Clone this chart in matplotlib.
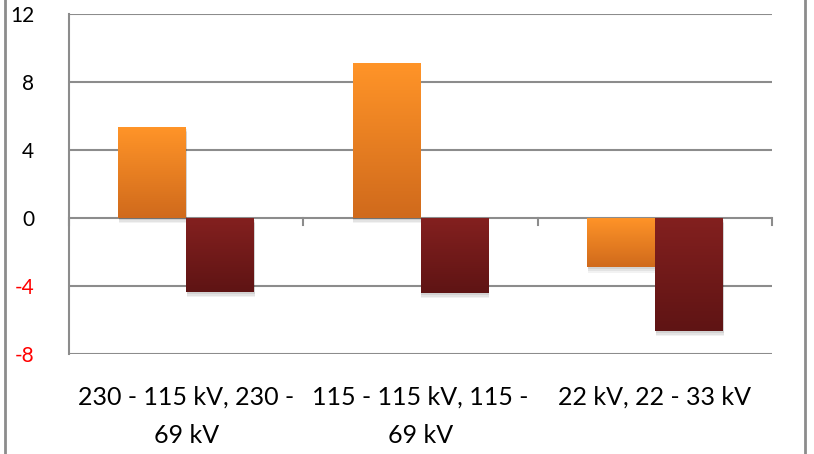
import numpy as np
import matplotlib.pyplot as plt
from matplotlib.patches import Rectangle
from matplotlib.lines import Line2D
from matplotlib.colors import to_rgb

categories = ['230 - 115 kV, 230 -\n69 kV', '115 - 115 kV, 115 -\n69 kV', '22 kV, 22 - 33 kV']
series_a = [5.35, 9.1, -2.9]    # orange
series_b = [-4.35, -4.4, -6.65]  # dark red
yticks = [-8, -4, 0, 4, 8, 12]

plt.rcParams['font.family'] = ['Lato', 'DejaVu Sans']

fig = plt.figure(figsize=(8.14, 4.54), dpi=100)
ax = fig.add_axes([69/814, 1-354/454, (772-69)/814, (354-14)/454])

# gridlines
for y in yticks:
    ax.axhline(y, color='#8c8c8c', lw=1.5, zorder=1)

def grad_bar(x, w, h, top, bottom):
    y0, y1 = (0, h) if h >= 0 else (h, 0)
    # soft shadow
    for k, a in [(0.32, 0.05), (0.22, 0.06), (0.12, 0.07)]:
        ax.add_patch(Rectangle((x + 0.004, y0 - k), w, y1 - y0, color='black',
                               alpha=a, lw=0, zorder=2))
    rect = Rectangle((x, y0), w, y1 - y0, facecolor='none', lw=0, zorder=3)
    ax.add_patch(rect)
    c1, c2 = np.array(to_rgb(top)), np.array(to_rgb(bottom))
    t = np.linspace(0, 1, 64)[:, None]
    img = (c1 * (1 - t) + c2 * t)[:, None, :]
    im = ax.imshow(img, extent=(x, x + w, y0, y1), origin='upper', aspect='auto', zorder=3)
    im.set_clip_path(rect)

w = 0.29
for i, (a, b) in enumerate(zip(series_a, series_b)):
    c = i + 0.5
    grad_bar(c - w, w, a, '#ff9428', '#d06a1c')
    grad_bar(c, w, b, '#83201f', '#5f1414')

ax.set_xlim(0, 3)
ax.set_ylim(-8, 12)

for s in ['top', 'right', 'bottom']:
    ax.spines[s].set_visible(False)
ax.spines['left'].set_color('#8c8c8c')
ax.spines['left'].set_linewidth(1.5)

ax.set_yticks(yticks)
ax.set_yticklabels([str(v) for v in yticks], fontsize=15)
for lbl, v in zip(ax.get_yticklabels(), yticks):
    lbl.set_color('red' if v < 0 else 'black')
ax.tick_params(axis='y', length=0, pad=25)
ax.set_xticks([])

# category boundary ticks on zero line
for xb in range(4):
    ax.plot([xb, xb], [0, -0.4], color='#8c8c8c', lw=1.5, zorder=1, clip_on=False)

for i, lab in enumerate(categories):
    ax.annotate(lab, xy=(i + 0.5, 0), xycoords=ax.get_xaxis_transform(),
                xytext=(0, -23), textcoords='offset points', ha='center', va='top',
                fontsize=18, linespacing=1.8)

# chart border lines
fig.add_artist(Line2D([5/814, 5/814], [0, 1], color='#8c8c8c', lw=2))
fig.add_artist(Line2D([805/814, 805/814], [0, 1], color='#8c8c8c', lw=2))

fig.savefig('out.png', dpi=100)
